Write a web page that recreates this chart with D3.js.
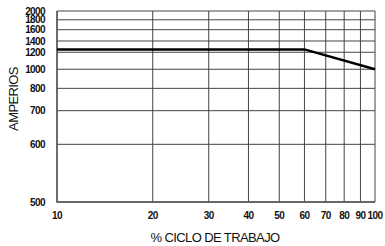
<!DOCTYPE html>
<html lang="es">
<head>
  <meta charset="UTF-8">
  <title>Amperios vs % ciclo de trabajo</title>
  <script src="https://d3js.org/d3.v7.min.js"></script>
  <style>
    body {
      margin: 0;
      padding: 0;
      background: #fff;
    }
    .tick-label {
      font-family: "Liberation Sans", Arial, sans-serif;
      font-weight: bold;
      font-size: 10px;
      letter-spacing: -0.6px;
      fill: #111;
    }
    .axis-title {
      font-family: "Liberation Sans", Arial, sans-serif;
      font-size: 13px;
      letter-spacing: -0.6px;
      fill: #111;
    }
  </style>
</head>
<body>
  <svg id="chart" width="385" height="246"></svg>

  <script>
    // chart data
    const dutyCycle = [10, 60, 100];          // % ciclo de trabajo
    const amperes = [1250, 1250, 1000];       // amperios

    // axis ticks
    const xTicks = [10, 20, 30, 40, 50, 60, 70, 80, 90, 100];
    const yTicks = [500, 600, 700, 800, 1000, 1200, 1400, 1600, 1800, 2000];

    const width = 385, height = 246;
    const margin = { top: 11, right: 10, bottom: 44, left: 57 };
    const plotW = width - margin.left - margin.right;
    const plotH = height - margin.top - margin.bottom;

    const svg = d3.select("#chart");
    const g = svg.append("g")
      .attr("transform", `translate(${margin.left},${margin.top})`);

    const x = d3.scaleLog()
      .domain([10, 100])
      .range([0, plotW]);

    // the printed amperage axis is irregular, so the scale is built
    // piecewise from where each labelled gridline sits (fraction of height)
    const yGridFrac = [0, 0.302, 0.478, 0.595, 0.695, 0.784, 0.843, 0.902, 0.954, 1];
    const y = d3.scaleLinear()
      .domain(yTicks)
      .range(yGridFrac.map(f => plotH * (1 - f)));

    // horizontal gridlines
    g.append("g")
      .selectAll("line")
      .data(yTicks)
      .enter().append("line")
      .attr("x1", 0)
      .attr("x2", plotW)
      .attr("y1", d => y(d))
      .attr("y2", d => y(d))
      .style("stroke", "#444")
      .style("stroke-width", 1);

    // vertical gridlines
    g.append("g")
      .selectAll("line")
      .data(xTicks)
      .enter().append("line")
      .attr("x1", d => x(d))
      .attr("x2", d => x(d))
      .attr("y1", 0)
      .attr("y2", plotH)
      .style("stroke", "#444")
      .style("stroke-width", 1);

    // left + bottom frame
    g.append("path")
      .attr("d", `M0,0V${plotH}H${plotW}`)
      .style("fill", "none")
      .style("stroke", "#555")
      .style("stroke-width", 1.4);

    // tick labels
    g.append("g")
      .selectAll("text")
      .data(yTicks)
      .enter().append("text")
      .attr("class", "tick-label")
      .attr("x", -12)
      .attr("y", d => y(d))
      .attr("dy", "0.36em")
      .attr("text-anchor", "end")
      .text(d => d);

    g.append("g")
      .selectAll("text")
      .data(xTicks)
      .enter().append("text")
      .attr("class", "tick-label")
      .attr("x", d => x(d))
      .attr("y", plotH + 13)
      .attr("dy", "0.36em")
      .attr("text-anchor", "middle")
      .text(d => d);

    // data line
    const line = d3.line()
      .x((d, i) => x(dutyCycle[i]))
      .y(d => y(d));

    g.append("path")
      .datum(amperes)
      .attr("d", line)
      .style("fill", "none")
      .style("stroke", "#000")
      .style("stroke-width", 2.4);

    // axis titles
    svg.append("text")
      .attr("class", "axis-title")
      .attr("transform", "translate(18,99) rotate(-90)")
      .attr("text-anchor", "middle")
      .text("AMPERIOS");

    svg.append("text")
      .attr("class", "axis-title")
      .attr("x", 215)
      .attr("y", 242)
      .attr("text-anchor", "middle")
      .text("% CICLO DE TRABAJO");
  </script>
</body>
</html>
